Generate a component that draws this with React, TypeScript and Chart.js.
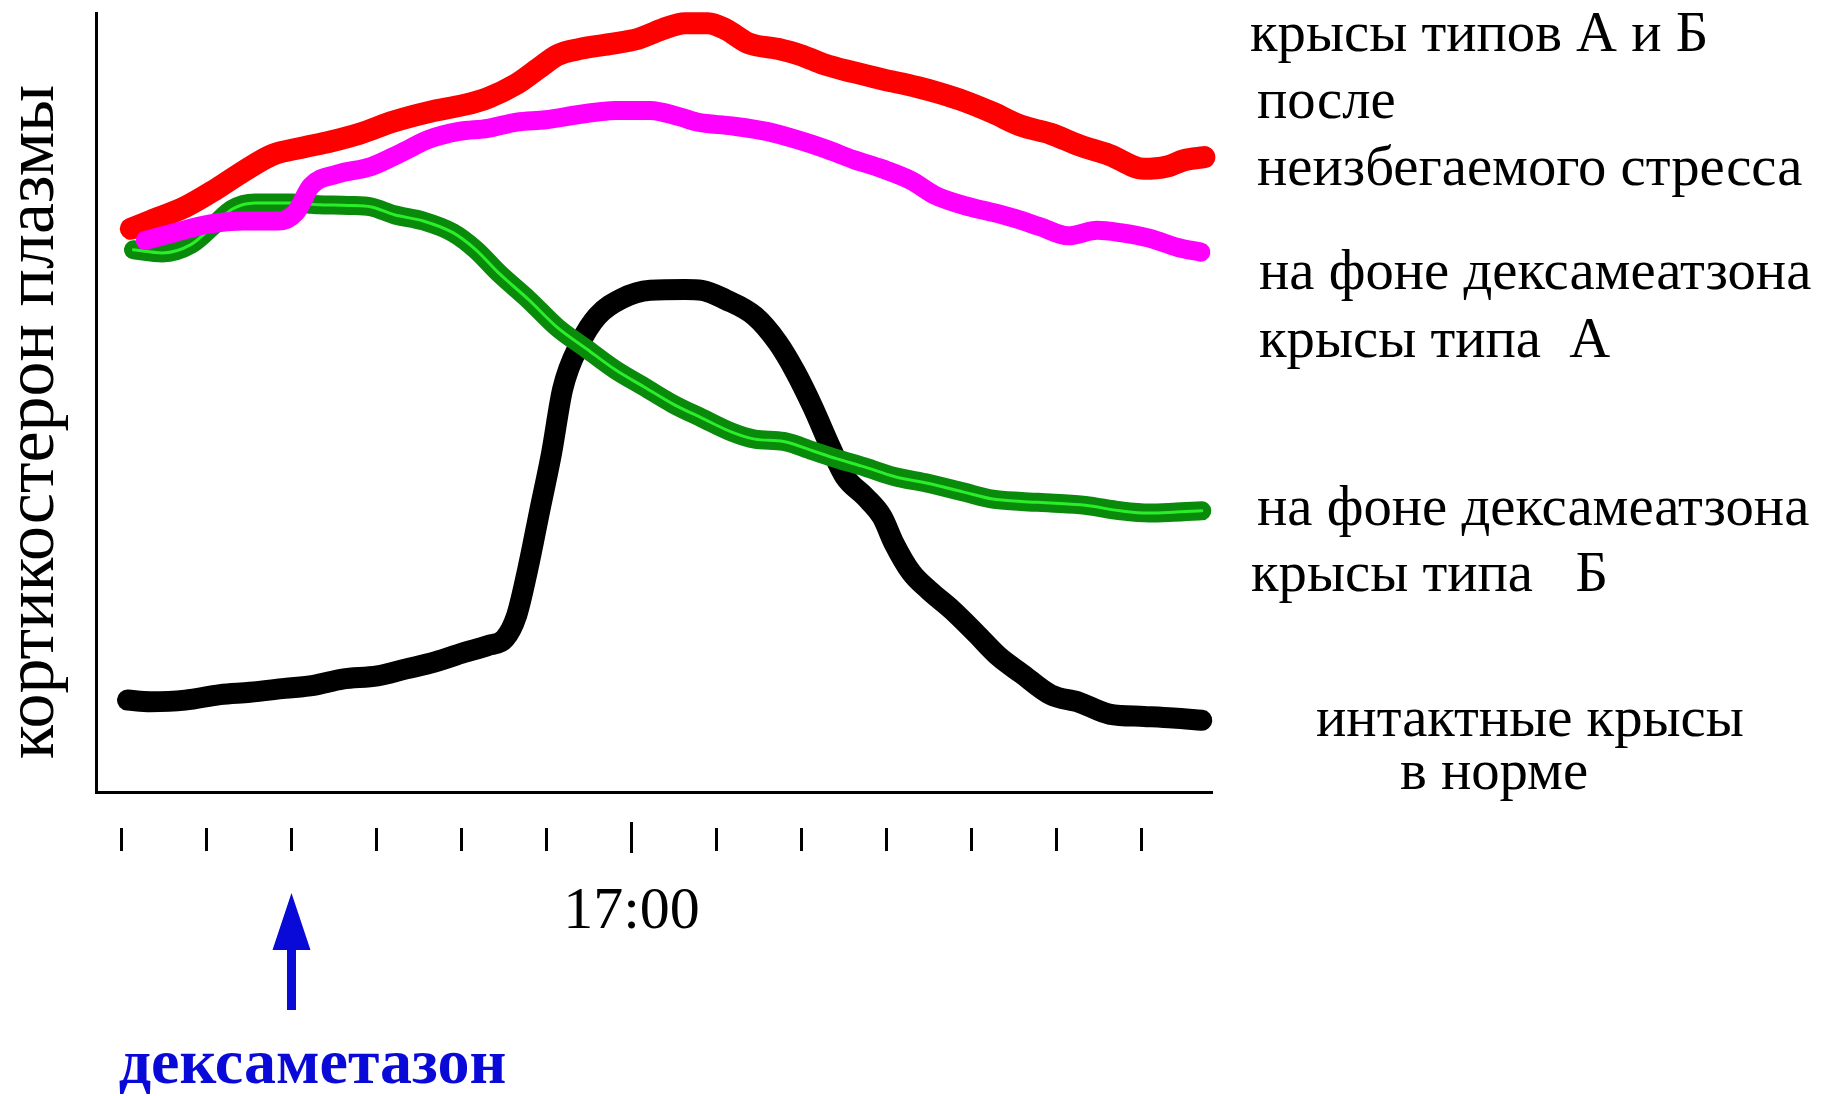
import { useEffect, useRef } from 'react';
import { Chart, registerables } from 'chart.js';

Chart.register(...registerables);

// ---- data ----
const tickHours = [11, 12, 13, 14, 15, 16, 17, 18, 19, 20, 21, 22, 23];
const labeledHour = 17;
const labeledHourText = '17:00';
const doseHour = 13;
const doseLabel = 'дексаметазон';
const yAxisTitle = 'кортикостерон плазмы';

const legendTexts = [
  'крысы типов А и Б',
  'после',
  'неизбегаемого стресса',
  'на фоне дексамеатзона',
  'крысы типа  А',
  'на фоне дексамеатзона',
  'крысы типа   Б',
  'интактные крысы',
  'в норме',
];

const seriesNames = [
  'после неизбегаемого стресса (А и Б)',
  'дексаметазон, тип А',
  'дексаметазон, тип Б',
  'интактные крысы',
];

const stressHours = [11.11, 11.34, 11.75, 12.10, 12.44, 12.78, 13.12, 13.46, 13.80, 14.21, 14.62, 15.03, 15.31, 15.65, 15.92, 16.13, 16.40, 16.74, 17.08, 17.36, 17.63, 17.90, 18.11, 18.38, 18.72, 18.99, 19.27, 19.61, 19.95, 20.36, 20.63, 20.91, 21.25, 21.59, 21.93, 22.27, 22.62, 23.03, 23.30, 23.50, 23.74];
const stressValues = [72.3, 73.3, 75.1, 77.3, 79.7, 81.8, 82.7, 83.5, 84.5, 86.1, 87.3, 88.2, 89.1, 90.9, 93.0, 94.6, 95.4, 96.0, 96.7, 97.9, 98.7, 98.7, 97.9, 96.1, 95.4, 94.6, 93.4, 92.4, 91.5, 90.5, 89.7, 88.7, 87.2, 85.5, 84.5, 83.0, 81.8, 80.0, 80.3, 81.1, 81.5];

const dexAHours = [11.28, 11.62, 12.03, 12.44, 12.85, 13.05, 13.23, 13.53, 13.94, 14.28, 14.62, 14.97, 15.31, 15.65, 15.99, 16.40, 16.81, 17.22, 17.56, 17.77, 18.18, 18.59, 18.93, 19.27, 19.61, 19.95, 20.29, 20.57, 20.91, 21.25, 21.52, 21.80, 22.14, 22.48, 22.75, 23.09, 23.43, 23.70];
const dexAValues = [70.8, 71.8, 72.9, 73.3, 73.3, 74.4, 77.8, 79.3, 80.3, 82.0, 83.8, 84.8, 85.2, 86.0, 86.3, 87.0, 87.5, 87.5, 86.7, 86.0, 85.5, 84.8, 83.8, 82.6, 81.2, 80.0, 78.5, 76.6, 75.3, 74.4, 73.6, 72.6, 71.4, 72.1, 71.8, 71.1, 69.9, 69.3];

const dexBHours = [11.14, 11.48, 11.82, 12.10, 12.30, 12.57, 12.98, 13.32, 13.67, 13.94, 14.21, 14.55, 14.90, 15.17, 15.44, 15.79, 16.13, 16.47, 16.81, 17.15, 17.49, 17.83, 18.18, 18.45, 18.79, 19.13, 19.41, 19.75, 20.09, 20.50, 20.91, 21.25, 21.59, 21.93, 22.34, 22.75, 23.09, 23.37, 23.71];
const dexBValues = [69.6, 69.2, 70.3, 72.9, 74.8, 75.6, 75.6, 75.4, 75.3, 75.1, 74.1, 73.3, 71.8, 69.6, 66.6, 63.2, 59.6, 56.9, 54.2, 52.0, 49.8, 48.0, 46.2, 45.3, 45.0, 43.8, 42.8, 41.7, 40.5, 39.6, 38.5, 37.6, 37.3, 37.1, 36.8, 36.1, 35.8, 35.9, 36.1];

const intactHours = [11.07, 11.34, 11.75, 12.16, 12.51, 12.92, 13.26, 13.60, 14.01, 14.35, 14.69, 15.03, 15.31, 15.51, 15.65, 15.78, 15.92, 16.06, 16.19, 16.40, 16.60, 16.88, 17.22, 17.63, 17.83, 18.11, 18.45, 18.72, 18.93, 19.13, 19.34, 19.51, 19.75, 19.95, 20.09, 20.29, 20.50, 20.77, 21.05, 21.32, 21.59, 21.93, 22.27, 22.62, 23.03, 23.37, 23.71];
const intactValues = [11.8, 11.6, 11.8, 12.5, 12.8, 13.3, 13.7, 14.5, 14.9, 15.8, 16.7, 17.9, 18.8, 19.7, 22.7, 28.6, 36.1, 43.5, 51.7, 57.7, 61.1, 63.3, 64.4, 64.5, 64.4, 63.2, 61.1, 57.7, 53.9, 49.5, 44.3, 40.5, 37.9, 35.3, 31.9, 28.2, 25.9, 23.4, 20.4, 17.4, 15.2, 12.5, 11.5, 10.0, 9.7, 9.5, 9.2];

// ---- helpers ----
const toPoints = (xs: number[], ys: number[]) => xs.map((x, i) => ({ x, y: ys[i] }));

const SERIF = '"Liberation Serif", "Times New Roman", serif';
const BLUE = '#0a0ad8';

const legendLayout = [
  { x: 1250, y: 51 },
  { x: 1257, y: 118 },
  { x: 1257, y: 185 },
  { x: 1259, y: 289 },
  { x: 1259, y: 357 },
  { x: 1257, y: 525 },
  { x: 1251, y: 591 },
  { x: 1316, y: 736 },
  { x: 1400, y: 789 },
];

const annotPlugin = {
  id: 'annot',
  afterDraw(chart: any) {
    const ctx: CanvasRenderingContext2D = chart.ctx;
    const xs = chart.scales.x;
    ctx.save();

    // vertical axis title
    ctx.save();
    ctx.translate(53, 422);
    ctx.rotate(-Math.PI / 2);
    ctx.font = `70px ${SERIF}`;
    ctx.fillStyle = '#000';
    ctx.textAlign = 'center';
    ctx.textBaseline = 'alphabetic';
    ctx.fillText(yAxisTitle, 0, 0);
    ctx.restore();

    // detached tick marks under the axis
    ctx.strokeStyle = '#000';
    ctx.lineWidth = 3;
    tickHours.forEach((h) => {
      const px = Math.round(xs.getPixelForValue(h)) + 0.5;
      const major = h === labeledHour;
      ctx.beginPath();
      ctx.moveTo(px, major ? 822 : 828);
      ctx.lineTo(px, major ? 853 : 851);
      ctx.stroke();
    });

    // dexamethasone arrow
    const ax = xs.getPixelForValue(doseHour);
    ctx.fillStyle = BLUE;
    ctx.fillRect(ax - 4.5, 944, 9, 66);
    ctx.beginPath();
    ctx.moveTo(ax, 893);
    ctx.lineTo(ax - 19, 950);
    ctx.lineTo(ax + 19, 950);
    ctx.closePath();
    ctx.fill();

    ctx.font = `bold 64px ${SERIF}`;
    ctx.textAlign = 'center';
    ctx.textBaseline = 'alphabetic';
    ctx.fillText(doseLabel, ax + 21, 1083);

    // right-hand labels
    ctx.font = `56px ${SERIF}`;
    const w = ctx.measureText(legendTexts[3]).width;
    const size = (56 * 552) / w;
    ctx.font = `${size.toFixed(1)}px ${SERIF}`;
    ctx.fillStyle = '#000';
    ctx.textAlign = 'left';
    legendTexts.forEach((t, i) => {
      ctx.fillText(t, legendLayout[i].x, legendLayout[i].y);
    });

    ctx.restore();
  },
};

export default function App() {
  const ref = useRef<HTMLCanvasElement>(null);

  useEffect(() => {
    document.body.style.margin = '0';
    document.body.style.background = '#fff';
    const canvas = ref.current;
    if (!canvas) return;

    const common = {
      pointRadius: 0,
      pointHoverRadius: 0,
      fill: false,
      cubicInterpolationMode: 'monotone' as const,
      borderCapStyle: 'round' as const,
      borderJoinStyle: 'round' as const,
      clip: false as const,
    };

    const chart = new Chart(canvas, {
      type: 'line',
      data: {
        datasets: [
          {
            ...common,
            label: seriesNames[1],
            data: toPoints(dexAHours, dexAValues),
            borderColor: '#ff00ff',
            borderWidth: 19,
            order: 0,
          },
          {
            ...common,
            label: seriesNames[0],
            data: toPoints(stressHours, stressValues),
            borderColor: '#ff0000',
            borderWidth: 22,
            order: 1,
          },
          {
            ...common,
            label: seriesNames[2],
            data: toPoints(dexBHours, dexBValues),
            borderColor: '#2aee2a',
            borderWidth: 3,
            order: 2,
          },
          {
            ...common,
            label: seriesNames[2] + ' ',
            data: toPoints(dexBHours, dexBValues),
            borderColor: '#0a8a0a',
            borderWidth: 19,
            order: 3,
          },
          {
            ...common,
            label: seriesNames[3],
            data: toPoints(intactHours, intactValues),
            borderColor: '#000000',
            borderWidth: 21,
            order: 4,
          },
        ],
      },
      options: {
        responsive: false,
        animation: false,
        events: [],
        layout: { padding: { left: 0, top: 13, right: 609, bottom: 0 } },
        plugins: {
          legend: { display: false },
          tooltip: { enabled: false },
          title: { display: false },
        },
        scales: {
          x: {
            type: 'linear',
            min: 10.7,
            max: 23.83,
            grid: { display: false, drawTicks: false },
            border: { display: true, color: '#000', width: 3 },
            ticks: {
              stepSize: 1,
              autoSkip: false,
              maxRotation: 0,
              minRotation: 0,
              padding: 84,
              color: '#000',
              font: { family: SERIF, size: 60, lineHeight: 1.2 },
              callback: (v: any) => (Math.abs(Number(v) - labeledHour) < 1e-6 ? labeledHourText : ''),
            },
            afterFit: (s: any) => {
              s.height = 304;
            },
          },
          y: {
            type: 'linear',
            min: 0,
            max: 100,
            grid: { display: false, drawTicks: false },
            border: { display: true, color: '#000', width: 3 },
            ticks: { display: false },
            title: { display: false, text: yAxisTitle },
            afterFit: (s: any) => {
              s.width = 96;
            },
          },
        },
      },
      plugins: [annotPlugin],
    });

    return () => chart.destroy();
  }, []);

  return (
    <div style={{ width: 1821, height: 1096, background: '#fff' }}>
      <canvas ref={ref} width={1821} height={1096} style={{ display: 'block' }} />
    </div>
  );
}
